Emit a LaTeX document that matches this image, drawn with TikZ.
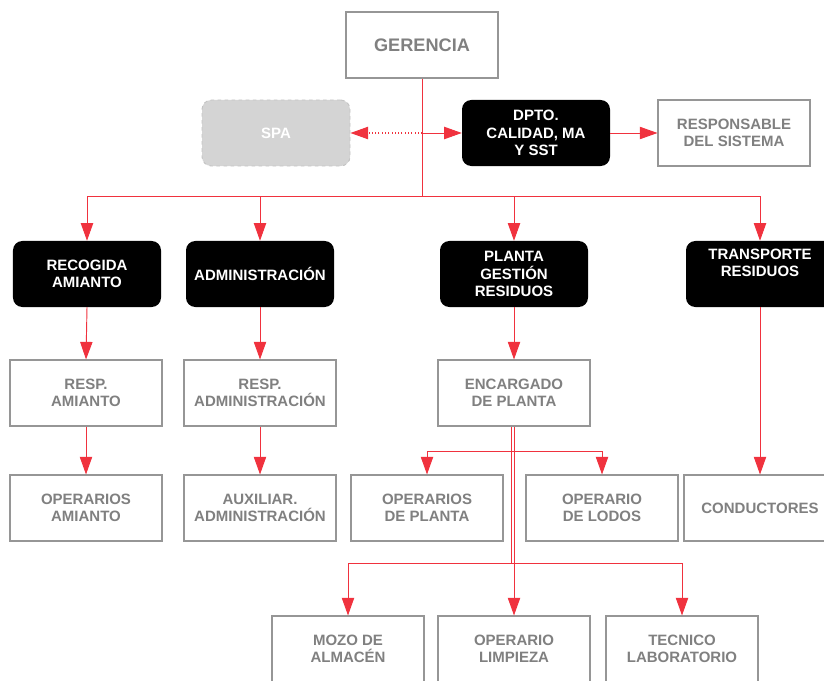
\documentclass[tikz,border=0pt]{standalone}
\usepackage{fontspec}
\setmainfont{Liberation Sans}
\usetikzlibrary{arrows.meta}
\definecolor{linkred}{RGB}{240,50,62}
\definecolor{boxgray}{RGB}{150,150,150}
\definecolor{txtgray}{RGB}{128,128,128}
\definecolor{spafill}{RGB}{212,212,212}
\definecolor{spaline}{RGB}{196,196,196}
\tikzset{
  cargo/.style={draw=boxgray,line width=0.9pt,fill=white,text=txtgray,
    minimum width=4.56cm,minimum height=1.98cm,align=center,
    font=\bfseries\fontsize{12.8}{14.6}\selectfont},
  area/.style={fill=black,rounded corners=8pt,text=white,
    minimum width=4.44cm,minimum height=1.98cm,align=center,
    font=\bfseries\fontsize{12.8}{15}\selectfont},
  externo/.style={area,fill=spafill,draw=spaline,dashed,line width=0.8pt},
  link/.style={draw=linkred,line width=0.8pt},
  arr/.style={link,-{Triangle[length=15pt,width=10.5pt]}},
}
\begin{document}
\begin{tikzpicture}[x=0.03cm,y=-0.03cm]
\useasboundingbox (0,0) rectangle (824,680);
% direccion
\node[cargo,font=\bfseries\fontsize{15.5}{17}\selectfont] (ger) at (422,45) {GERENCIA};
\node[externo] (spa) at (276,133) {SPA};
\node[area] (cal) at (536,133) {DPTO.\\CALIDAD, MA\\Y SST};
\node[cargo] (rsg) at (734,133) {RESPONSABLE\\DEL SISTEMA};
% areas
\node[area] (rec) at (87,274) {RECOGIDA\\AMIANTO};
\node[area] (adm) at (260,274) {ADMINISTRACIÓN};
\node[area] (pla) at (514,274) {PLANTA\\GESTIÓN\\RESIDUOS};
\node[area] (tra) at (760,274) {TRANSPORTE\\RESIDUOS\\\strut};
% responsables
\node[cargo] (ram) at (86,393) {RESP.\\AMIANTO};
\node[cargo] (rad) at (260,393) {RESP.\\ADMINISTRACIÓN};
\node[cargo] (enc) at (514,393) {ENCARGADO\\DE PLANTA};
% operarios
\node[cargo] (oam) at (86,508) {OPERARIOS\\AMIANTO};
\node[cargo] (aux) at (260,508) {AUXILIAR.\\ADMINISTRACIÓN};
\node[cargo] (opl) at (427,508) {OPERARIOS\\DE PLANTA};
\node[cargo] (olo) at (602,508) {OPERARIO\\DE LODOS};
\node[cargo] (con) at (760,508) {CONDUCTORES};
\node[cargo] (moz) at (348,649) {MOZO DE\\ALMACÉN};
\node[cargo] (lim) at (514,649) {OPERARIO\\LIMPIEZA};
\node[cargo] (tec) at (682,649) {TECNICO\\LABORATORIO};

\coordinate (cruce) at (422,133);
\coordinate (bus) at (422,196);
\coordinate (busA) at (511,451);
\coordinate (busB) at (511,563);

\draw[link,dotted,line width=1pt,-{Triangle[length=15pt,width=10.5pt]}] (cruce) -- (spa.east);
\draw[arr] (cruce) -- (cal.west);
\draw[arr] (cal.east) -- (rsg.west);
\draw[link] (ger.south) -- (bus);
\draw[link] (bus -| rec.north) -- (bus -| tra.north);
\foreach \n in {rec,adm,pla,tra}
  \draw[arr] (bus -| \n.north) -- (\n.north);
\draw[arr] (rec.south) -- (ram.north);
\draw[arr] (ram.south) -- (oam.north);
\draw[arr] (adm.south) -- (rad.north);
\draw[arr] (rad.south) -- (aux.north);
\draw[arr] (pla.south) -- (enc.north);
\draw[arr] (tra.south) -- (con.north);
% bajo el encargado
\draw[link] (enc.south -| busA) -- (busB);
\draw[link] (busA -| opl.north) -- (busA -| olo.north);
\draw[arr] (busA -| opl.north) -- (opl.north);
\draw[arr] (busA -| olo.north) -- (olo.north);
\draw[link] (busB -| moz.north) -- (busB -| tec.north);
\draw[arr] (busB -| moz.north) -- (moz.north);
\draw[arr] (busB -| tec.north) -- (tec.north);
\draw[arr] (enc.south) -- (lim.north);
\end{tikzpicture}
\end{document}
